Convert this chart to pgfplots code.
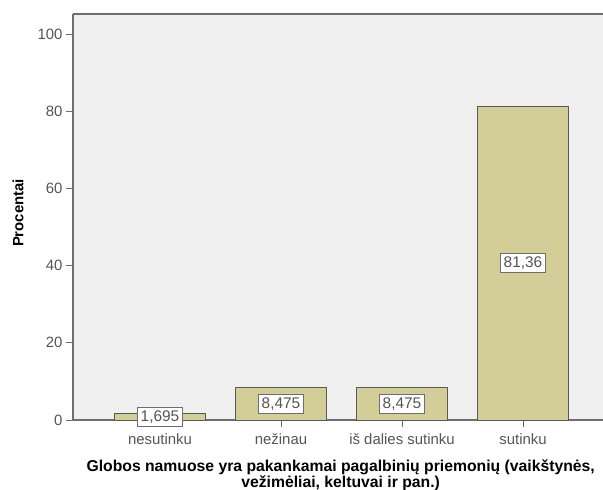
\documentclass[border=0pt]{standalone}
\usepackage{fontspec}
\setmainfont{Liberation Sans}
\usepackage{pgfplots}
\pgfplotsset{compat=1.18}
\usepackage{pgfplotstable}
\usetikzlibrary{calc}

\definecolor{barfill}{RGB}{211,206,151}
\definecolor{plotbg}{RGB}{240,240,240}
\definecolor{axisgray}{RGB}{110,110,110}
\definecolor{labelgray}{RGB}{85,85,85}

% percent of answers per category
\pgfplotstableread{
x y label
0 1.695 1,695
1 8.475 8,475
2 8.475 8,475
3 81.36 81,36
}\answers

\begin{document}
\begin{tikzpicture}
\begin{axis}[
    scale only axis, width=530bp, height=406bp,
    xmin=-0.719, xmax=3.661, ymin=0, ymax=105.2,
    axis x line*=bottom, axis y line*=left,
    axis line style={axisgray, line width=1.2pt, -},
    axis background/.style={fill=plotbg},
    xtick={0,1,2,3},
    xticklabels={nesutinku, nežinau, iš dalies sutinku, sutinku},
    ytick={0,20,...,100},
    tick align=outside, major tick length=7bp,
    tick style={axisgray, line width=1pt},
    ticklabel style={labelgray, font=\fontsize{15}{18}\selectfont},
    xticklabel style={yshift=-3bp},
    /pgf/number format/assume math mode=true,
    xlabel={Globos namuose yra pakankamai pagalbinių priemonių (vaikštynės,\\vežimėliai, keltuvai ir pan.)},
    xlabel style={font=\bfseries\fontsize{15.8}{14}\selectfont, align=center,
        at={(ticklabel cs:0.505)}, yshift=-8bp},
    ylabel={Procentai},
    every axis y label/.style={at={(rel axis cs:0,0.51)}, rotate=90,
        anchor=center, yshift=55bp, font=\bfseries\fontsize{15}{18}\selectfont},
    clip=false,
]
\coordinate (sw) at (rel axis cs:0,0);
\coordinate (ne) at (rel axis cs:1,1);
\draw[axisgray, line width=1.2pt] (rel axis cs:0,1) -- (rel axis cs:1,1);
\addplot[ybar, bar shift=0pt, bar width=91bp, fill=barfill,
    draw=black!65, line width=0.9pt]
    table[x=x, y=y] {\answers};
\addplot[draw=none, mark=none, nodes near coords,
    point meta=explicit symbolic,
    every node near coord/.append style={anchor=center, fill=white,
        draw=axisgray, line width=0.8pt, inner sep=3.2bp, text=labelgray,
        font=\fontsize{15.5}{18}\selectfont}]
    table[x=x, y expr=\thisrow{y}/2, meta=label] {\answers};
\end{axis}
\pgfresetboundingbox
\path[use as bounding box] ($(sw)+(-73bp,-70bp)$) rectangle ($(ne)+(0,14bp)$);
\end{tikzpicture}
\end{document}
